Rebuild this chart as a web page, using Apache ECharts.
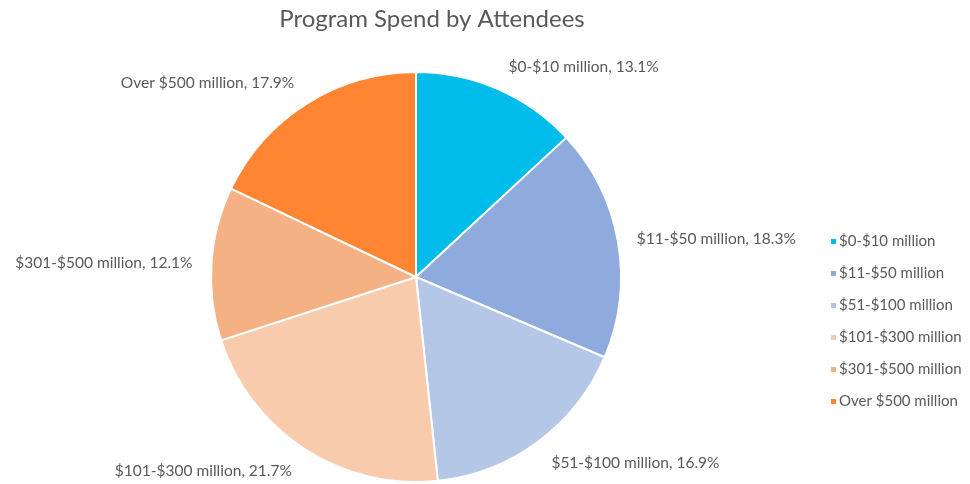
<!DOCTYPE html>
<html>
<head>
<meta charset="utf-8">
<script src="https://cdn.jsdelivr.net/npm/echarts@6/dist/echarts.min.js"></script>
<style>
  html, body { margin: 0; padding: 0; background: #fff; }
  #chart { width: 970px; height: 484px; }
</style>
</head>
<body>
<div id="chart"></div>
<script>
var categories = ['$0-$10 million', '$11-$50 million', '$51-$100 million', '$101-$300 million', '$301-$500 million', 'Over $500 million'];
var shares = [13.1, 18.3, 16.9, 21.7, 12.1, 17.9];
var colors = ['#00BCEB', '#8FAADC', '#B4C7E7', '#F8CBAD', '#F4B183', '#FF8533'];

var chart = echarts.init(document.getElementById('chart'));
chart.setOption({
  color: colors,
  textStyle: { fontFamily: 'Lato' },
  title: {
    text: 'Program Spend by Attendees',
    left: 427,
    top: 2,
    textAlign: 'center',
    textStyle: { fontFamily: 'Lato', fontSize: 24, fontWeight: 'normal', color: '#595959' }
  },
  legend: {
    orient: 'vertical',
    left: 824,
    top: 229,
    itemWidth: 7,
    itemHeight: 7,
    itemGap: 17,
    icon: 'rect',
    textStyle: { fontFamily: 'Lato', fontSize: 15, color: '#595959', padding: [0, 0, 0, -3] },
    data: categories
  },
  series: [{
    type: 'pie',
    center: [416, 277],
    radius: 205,
    startAngle: 90,
    clockwise: true,
    itemStyle: { borderColor: '#fff', borderWidth: 2 },
    label: {
      position: 'outside',
      formatter: function (p) { return p.name + ', ' + p.value.toFixed(1) + '%'; },
      fontFamily: 'Lato',
      fontSize: 15.5,
      color: '#595959',
      overflow: 'none'
    },
    labelLine: { show: false, length: 14, length2: 0 },
    labelLayout: function (p) {
      // nudge labels a bit further out vertically, like the reference
      var cy = 277;
      var my = p.labelRect.y + p.labelRect.height / 2;
      var d = my < cy - 100 ? -9 : (my > cy + 100 ? 10 : 0);
      return { dy: d };
    },
    emphasis: { disabled: true },
    data: categories.map(function (c, i) { return { name: c, value: shares[i] }; })
  }]
});
</script>
</body>
</html>
